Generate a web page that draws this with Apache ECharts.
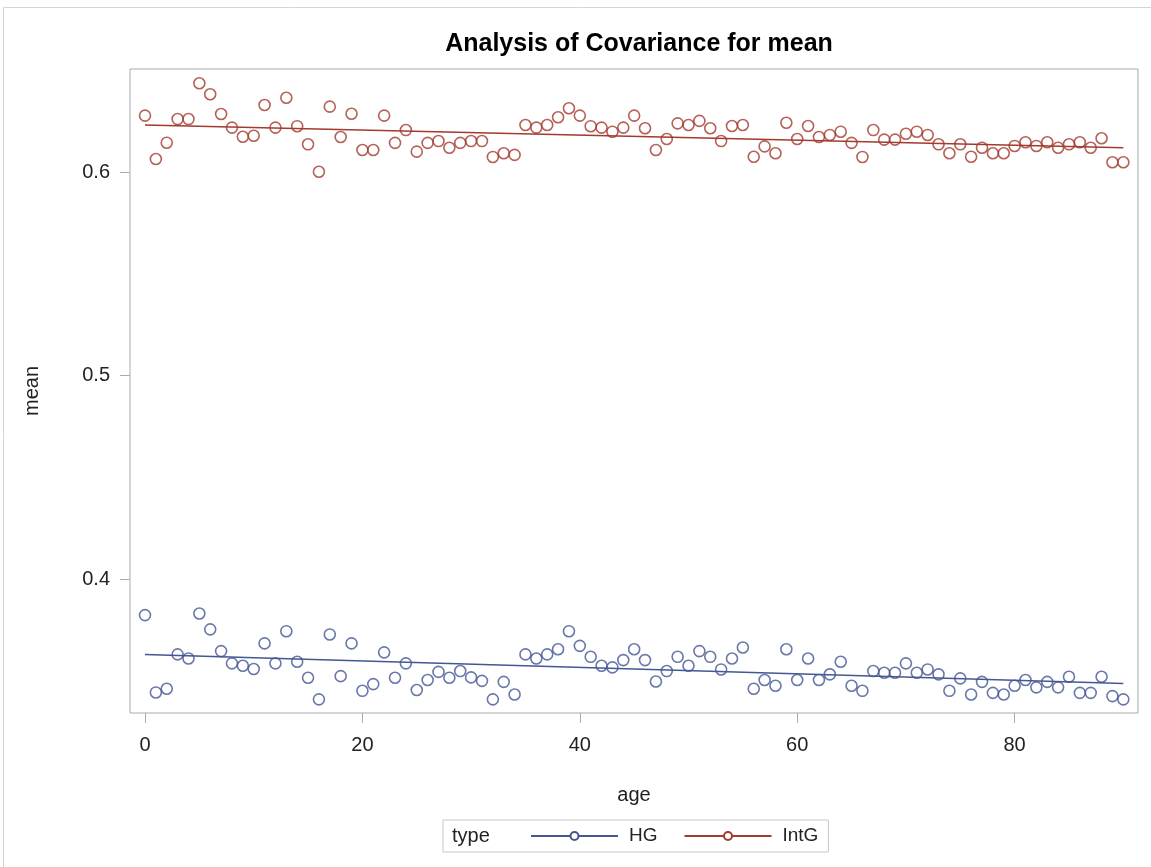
<!DOCTYPE html>
<html>
<head>
<meta charset="utf-8">
<script src="https://cdn.jsdelivr.net/npm/echarts@6/dist/echarts.min.js"></script>
<style>
  html, body { margin: 0; padding: 0; background: #fff; }
  #chart { width: 1151px; height: 867px; }
</style>
</head>
<body>
<div id="chart"></div>
<script>
// age values on x axis
let ages = [0, 1, 2, 3, 4, 5, 6, 7, 8, 9, 10, 11, 12, 13, 14, 15, 16, 17, 18, 19,
    20, 21, 22, 23, 24, 25, 26, 27, 28, 29, 30, 31, 32, 33, 34, 35, 36, 37, 38, 39,
    40, 41, 42, 43, 44, 45, 46, 47, 48, 49, 50, 51, 52, 53, 54, 55, 56, 57, 58, 59,
    60, 61, 62, 63, 64, 65, 66, 67, 68, 69, 70, 71, 72, 73, 74, 75, 76, 77, 78, 79,
    80, 81, 82, 83, 84, 85, 86, 87, 88, 89, 90]

// mean for type HG
let hgMean = [0.3823, 0.3443, 0.3461, 0.3630, 0.3610, 0.3831, 0.3753, 0.3646, 0.3586, 0.3574,
    0.3558, 0.3684, 0.3586, 0.3744, 0.3594, 0.3515, 0.3409, 0.3728, 0.3523, 0.3684,
    0.3451, 0.3484, 0.3640, 0.3515, 0.3586, 0.3455, 0.3504, 0.3544, 0.3515, 0.3548,
    0.3517, 0.3500, 0.3409, 0.3495, 0.3433, 0.3630, 0.3610, 0.3630, 0.3655, 0.3744,
    0.3672, 0.3618, 0.3574, 0.3566, 0.3602, 0.3655, 0.3602, 0.3497, 0.3548, 0.3618,
    0.3574, 0.3646, 0.3618, 0.3556, 0.3610, 0.3664, 0.3461, 0.3504, 0.3476, 0.3655,
    0.3504, 0.3610, 0.3504, 0.3532, 0.3594, 0.3476, 0.3451, 0.3548, 0.3540, 0.3540,
    0.3586, 0.3540, 0.3556, 0.3532, 0.3451, 0.3512, 0.3433, 0.3495, 0.3441, 0.3433,
    0.3476, 0.3504, 0.3468, 0.3495, 0.3468, 0.3520, 0.3441, 0.3441, 0.3520, 0.3425,
    0.3409]

// mean for type IntG
let intgMean = [0.6277, 0.6064, 0.6144, 0.6260, 0.6260, 0.6436, 0.6382, 0.6285, 0.6218, 0.6173,
    0.6178, 0.6329, 0.6218, 0.6365, 0.6225, 0.6136, 0.6001, 0.6321, 0.6172, 0.6286,
    0.6108, 0.6108, 0.6277, 0.6143, 0.6206, 0.6100, 0.6143, 0.6152, 0.6119, 0.6143,
    0.6152, 0.6152, 0.6074, 0.6092, 0.6084, 0.6231, 0.6218, 0.6231, 0.6269, 0.6313,
    0.6277, 0.6225, 0.6218, 0.6198, 0.6218, 0.6277, 0.6215, 0.6108, 0.6162, 0.6239,
    0.6231, 0.6251, 0.6215, 0.6152, 0.6226, 0.6231, 0.6075, 0.6126, 0.6092, 0.6242,
    0.6162, 0.6226, 0.6172, 0.6182, 0.6198, 0.6143, 0.6074, 0.6206, 0.6159, 0.6159,
    0.6188, 0.6198, 0.6182, 0.6136, 0.6092, 0.6136, 0.6075, 0.6119, 0.6092, 0.6092,
    0.6128, 0.6146, 0.6128, 0.6146, 0.6119, 0.6136, 0.6146, 0.6119, 0.6166, 0.6048,
    0.6048]

// fitted lines (ends)
let fitAges = [0, 90]
let fitHG = [0.3630, 0.3487]
let fitIntG = [0.6231, 0.6119]

let xTicks = [0, 20, 40, 60, 80]
let yTicks = [0.4, 0.5, 0.6]

let blue = '#445694'
let red = '#a23a2e'
let font = "'Liberation Sans', Arial, sans-serif"

function pairs(X, Y) {
    let result = []
    X.forEach(function (x, i) {
        result.push([x, Y[i]])
    })
    return result
}

echarts.init(document.querySelector('#chart')).setOption({
    animation: false,
    title: {
        text: 'Analysis of Covariance for mean',
        left: 634,
        textAlign: 'center',
        top: 27,
        textStyle: { fontFamily: font, fontSize: 25, fontWeight: 'bold', color: '#000' }
    },
    graphic: [
        {
            type: 'rect', silent: true,
            shape: { x: 3.5, y: 7.5, width: 1200, height: 900 },
            style: { fill: 'none', stroke: '#d4d4d4', lineWidth: 1 }
        },
        {
            type: 'text', left: 452, top: 826, silent: true,
            style: { text: 'type', fontFamily: font, fontSize: 20, fill: '#222' }
        }
    ],
    legend: {
        data: ['HG', 'IntG'],
        left: 443,
        top: 820,
        padding: [6, 10, 6, 87],
        borderColor: '#c8c8c8',
        borderWidth: 1,
        itemWidth: 87,
        itemHeight: 10,
        itemGap: 26,
        textStyle: { fontFamily: font, fontSize: 19, color: '#222', padding: [0, 0, 0, 6], lineHeight: 20 }
    },
    grid: {
        left: 130, right: 13, top: 69, bottom: 154,
        show: true, borderColor: '#a8abb0', borderWidth: 1
    },
    xAxis: {
        type: 'value',
        min: -1.38,
        max: 91.35,
        name: 'age',
        nameLocation: 'middle',
        nameGap: 72,
        nameTextStyle: { fontFamily: font, fontSize: 20, color: '#222' },
        axisLine: { show: false, onZero: false },
        splitLine: { show: false },
        axisTick: { show: true, length: 10, customValues: xTicks, lineStyle: { color: '#a8abb0' } },
        axisLabel: { customValues: xTicks, margin: 22, fontFamily: font, fontSize: 20, color: '#222' }
    },
    yAxis: {
        type: 'value',
        min: 0.3342,
        max: 0.6506,
        name: 'mean',
        nameLocation: 'middle',
        nameGap: 88,
        nameTextStyle: { fontFamily: font, fontSize: 20, color: '#222' },
        axisLine: { show: false, onZero: false },
        splitLine: { show: false },
        axisTick: { show: true, length: 10, customValues: yTicks, lineStyle: { color: '#a8abb0' } },
        axisLabel: {
            customValues: yTicks, margin: 20, fontFamily: font, fontSize: 20, color: '#222',
            formatter: function (v) { return v.toFixed(1) }
        }
    },
    series: [
        {
            name: 'HG', type: 'line',
            data: pairs(fitAges, fitHG),
            showSymbol: false, symbol: 'emptyCircle', symbolSize: 12,
            lineStyle: { color: blue, width: 1.5 },
            itemStyle: { color: blue, borderColor: blue, borderWidth: 1.5 }
        },
        {
            name: 'IntG', type: 'line',
            data: pairs(fitAges, fitIntG),
            showSymbol: false, symbol: 'emptyCircle', symbolSize: 12,
            lineStyle: { color: red, width: 1.5 },
            itemStyle: { color: red, borderColor: red, borderWidth: 1.5 }
        },
        {
            name: 'HG points', type: 'scatter',
            data: pairs(ages, hgMean),
            symbol: 'circle', symbolSize: 11,
            itemStyle: { color: 'rgba(0,0,0,0)', borderColor: blue, borderWidth: 1.6 }
        },
        {
            name: 'IntG points', type: 'scatter',
            data: pairs(ages, intgMean),
            symbol: 'circle', symbolSize: 11,
            itemStyle: { color: 'rgba(0,0,0,0)', borderColor: red, borderWidth: 1.6 }
        }
    ]
});
</script>
</body>
</html>
